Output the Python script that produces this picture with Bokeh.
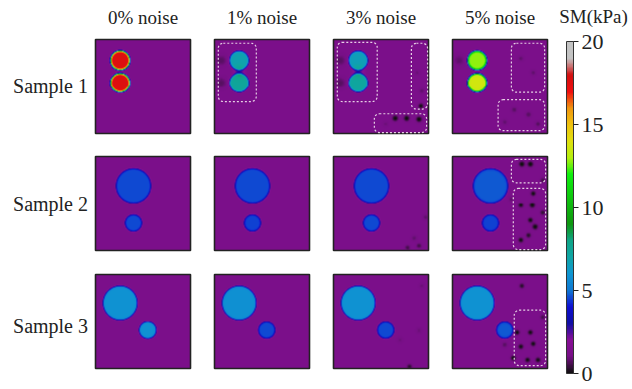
import numpy as np
from bokeh.plotting import figure
from bokeh.models import Range1d, LinearColorMapper, ColorBar, FixedTicker, BoxAnnotation
from bokeh.core.properties import value
from bokeh.embed import file_html
from bokeh.resources import INLINE

# ---------------------------------------------------------------- data
noise_labels = ["0% noise", "1% noise", "3% noise", "5% noise"]
sample_labels = ["Sample 1", "Sample 2", "Sample 3"]
cbar_ticks = [0, 5, 10, 15, 20]
cbar_title = "SM(kPa)"
sm_low, sm_high = 0.0, 20.0
background_kpa = 1.2

# inclusion geometry per sample: (u, v, radius), panel units, v from the top
inclusions = [
    [(0.26, 0.22, 0.10), (0.26, 0.46, 0.10)],
    [(0.40, 0.31, 0.185), (0.40, 0.71, 0.09)],
    [(0.26, 0.30, 0.18), (0.55, 0.595, 0.09)],
]
# reconstructed shear modulus of each inclusion (kPa), per noise level
inclusion_kpa = [
    [[17.6, 17.6], [6.8, 7.4], [6.6, 7.2], [12.8, 13.6]],
    [[4.6, 4.6], [4.6, 4.5], [4.6, 4.6], [4.7, 4.5]],
    [[5.9, 5.9], [5.8, 4.6], [5.9, 4.6], [5.9, 4.7]],
]
# reconstruction artefacts: (sample, noise, u, v, delta kPa, width)
artefacts = [
    (0, 1, 0.07, 0.22, -0.5, 0.04), (0, 1, 0.07, 0.46, -0.5, 0.04), (0, 1, 0.26, 0.34, 1.5, 0.04),
    (0, 2, 0.07, 0.22, -0.5, 0.04), (0, 2, 0.07, 0.46, -0.5, 0.04), (0, 2, 0.26, 0.34, 1.5, 0.04),
    (0, 2, 0.65, 0.84, -1.3, 0.02), (0, 2, 0.77, 0.84, -1.3, 0.02), (0, 2, 0.90, 0.85, -1.3, 0.02),
    (0, 2, 0.92, 0.71, -1.2, 0.018), (0, 2, 0.93, 0.55, -0.4, 0.02), (0, 2, 0.88, 0.35, -0.3, 0.02),
    (0, 2, 0.55, 0.90, -0.3, 0.02),
    (0, 3, 0.72, 0.20, -0.4, 0.02), (0, 3, 0.85, 0.35, -0.4, 0.02), (0, 3, 0.65, 0.75, -0.5, 0.02),
    (0, 3, 0.80, 0.80, -0.5, 0.02), (0, 3, 0.90, 0.90, -0.5, 0.02), (0, 3, 0.55, 0.88, -0.4, 0.02),
    (0, 3, 0.07, 0.22, -0.4, 0.04),
    (1, 2, 0.78, 0.97, -0.7, 0.018), (1, 2, 0.90, 0.95, -0.7, 0.018), (1, 2, 0.85, 0.87, -0.4, 0.02),
    (1, 2, 0.97, 0.65, -0.4, 0.02),
    (1, 3, 0.73, 0.08, -1.3, 0.02), (1, 3, 0.82, 0.08, -1.3, 0.02), (1, 3, 0.85, 0.39, -1.2, 0.018),
    (1, 3, 0.72, 0.52, -1.2, 0.018), (1, 3, 0.84, 0.52, -1.3, 0.02), (1, 3, 0.82, 0.68, -1.2, 0.018),
    (1, 3, 0.87, 0.75, -1.3, 0.02), (1, 3, 0.72, 0.89, -1.2, 0.018), (1, 3, 0.80, 0.84, -1.0, 0.018),
    (1, 3, 0.95, 0.60, -0.9, 0.018), (1, 3, 0.95, 0.25, -0.7, 0.018), (1, 3, 0.62, 0.45, -0.4, 0.02),
    (2, 2, 0.80, 0.98, -0.9, 0.018), (2, 2, 0.90, 0.60, -0.3, 0.02), (2, 2, 0.93, 0.12, -0.3, 0.02),
    (2, 2, 0.70, 0.70, -0.3, 0.02),
    (2, 3, 0.73, 0.12, -1.0, 0.018), (2, 3, 0.68, 0.62, -1.2, 0.018), (2, 3, 0.82, 0.62, -1.2, 0.018),
    (2, 3, 0.72, 0.77, -1.2, 0.018), (2, 3, 0.85, 0.74, -1.2, 0.018), (2, 3, 0.64, 0.89, -1.2, 0.018),
    (2, 3, 0.79, 0.91, -1.2, 0.018), (2, 3, 0.90, 0.91, -1.2, 0.018), (2, 3, 0.95, 0.45, -0.7, 0.018),
    (2, 3, 0.55, 0.75, -0.5, 0.02),
]
# highlighted regions: (sample, noise, u0, v0, u1, v1)
highlight_boxes = [
    (0, 1, 0.04, 0.04, 0.44, 0.66),
    (0, 2, 0.04, 0.03, 0.46, 0.66), (0, 2, 0.82, 0.04, 0.99, 0.74), (0, 2, 0.43, 0.79, 0.98, 0.99),
    (0, 3, 0.62, 0.04, 0.97, 0.56), (0, 3, 0.48, 0.64, 0.97, 0.97),
    (1, 3, 0.62, 0.03, 0.98, 0.28), (1, 3, 0.64, 0.34, 0.98, 0.99),
    (2, 3, 0.65, 0.38, 0.98, 0.97),
]

# nipy_spectral-like colour map
_cmap_nodes = [
    (0.00, 0.0000, 0.0000, 0.0000), (0.05, 0.4667, 0.0000, 0.5333), (0.10, 0.5333, 0.0000, 0.6000),
    (0.15, 0.0000, 0.0000, 0.6667), (0.20, 0.0000, 0.0000, 0.8667), (0.25, 0.0000, 0.4667, 0.8667),
    (0.30, 0.0000, 0.6000, 0.8667), (0.35, 0.0000, 0.6667, 0.6667), (0.40, 0.0000, 0.6667, 0.5333),
    (0.45, 0.0000, 0.6000, 0.0000), (0.50, 0.0000, 0.7333, 0.0000), (0.55, 0.0000, 0.8667, 0.0000),
    (0.60, 0.0000, 1.0000, 0.0000), (0.65, 0.7333, 1.0000, 0.0000), (0.70, 0.9333, 0.9333, 0.0000),
    (0.75, 1.0000, 0.8000, 0.0000), (0.80, 1.0000, 0.6000, 0.0000), (0.85, 1.0000, 0.0000, 0.0000),
    (0.90, 0.8667, 0.0000, 0.0000), (0.95, 0.8000, 0.8000, 0.8000), (1.00, 0.8000, 0.8000, 0.8000),
]
palette_softening = 0.12  # blend toward grey for a slightly muted print look


def build_palette(n=256):
    nodes = np.array(_cmap_nodes)
    t = np.linspace(0, 1, n)
    cols = []
    for ti in t:
        rgb = np.array([np.interp(ti, nodes[:, 0], nodes[:, k]) for k in (1, 2, 3)])
        rgb = (1 - palette_softening) * rgb + palette_softening * 0.5
        r, g, b = (int(round(c * 255)) for c in rgb)
        cols.append("#%02x%02x%02x" % (r, g, b))
    return cols


# ---------------------------------------------------------------- layout
W, H = 632, 389
panel_left = [95, 214, 333, 452]
panel_top = [39, 156, 274]
panel_w, panel_h = 95, 94
grid_n = 95
edge_width = 0.005
serif = "Liberation Serif"


def sy(y_px):
    """screen y (from the top) -> data y"""
    return H - y_px


def field(si, ni):
    u = (np.arange(grid_n) + 0.5) / grid_n
    uu, vv = np.meshgrid(u, u)
    f = np.full((grid_n, grid_n), background_kpa)
    for (cu, cv, r), e in zip(inclusions[si], inclusion_kpa[si][ni]):
        d = np.hypot(uu - cu, vv - cv)
        w = 1.0 / (1.0 + np.exp((d - r) / edge_width))
        f = f + (e - background_kpa) * w
    for (s, n, au, av, amp, width) in artefacts:
        if s == si and n == ni:
            f = f + amp * np.exp(-((uu - au) ** 2 + (vv - av) ** 2) / (2 * width ** 2))
    return np.clip(f, 0.0, None)[::-1]


p = figure(width=W, height=H, x_range=Range1d(0, W), y_range=Range1d(0, H),
           output_backend="svg", toolbar_location=None, min_border=0)
p.axis.visible = False
p.grid.visible = False
p.outline_line_color = None
p.background_fill_color = "white"
p.border_fill_color = "white"

mapper = LinearColorMapper(palette=build_palette(), low=sm_low, high=sm_high)

for si in range(len(sample_labels)):
    for ni in range(len(noise_labels)):
        x0 = panel_left[ni]
        y1 = panel_top[si] + panel_h
        p.image(image=[field(si, ni)], x=x0, y=sy(y1), dw=panel_w, dh=panel_h,
                color_mapper=mapper)
        p.quad(left=[x0], right=[x0 + panel_w], top=[sy(panel_top[si])], bottom=[sy(y1)],
               fill_alpha=0, line_color="#222222", line_width=1.6)

for (s, n, u0, v0, u1, v1) in highlight_boxes:
    x0, t0 = panel_left[n], panel_top[s]
    p.add_layout(BoxAnnotation(left=x0 + u0 * panel_w, right=x0 + u1 * panel_w,
                               top=sy(t0 + v0 * panel_h), bottom=sy(t0 + v1 * panel_h),
                               fill_alpha=0, line_color="#f2e6ee", line_alpha=0.9,
                               line_width=1.2, line_dash="2 2", border_radius=5))

# column and row titles
p.text(x=[l + panel_w / 2 for l in panel_left], y=[sy(17)] * 4, text=noise_labels,
       text_font=value(serif), text_font_size="19px", text_color="#222222",
       text_align="center", text_baseline="middle")
p.text(x=[50] * 3, y=[sy(85), sy(203), sy(325)], text=sample_labels,
       text_font=value(serif), text_font_size="20px", text_color="#222222",
       text_align="center", text_baseline="middle")
p.text(x=[593], y=[sy(16)], text=[cbar_title],
       text_font=value(serif), text_font_size="19px", text_color="#222222",
       text_align="center", text_baseline="middle")

cbar_top, cbar_bottom = 41, 373
cb = ColorBar(color_mapper=mapper, ticker=FixedTicker(ticks=cbar_ticks),
              orientation="vertical", width=7, height=cbar_bottom - cbar_top,
              location=(566, H - cbar_bottom), padding=0,
              major_label_text_font=serif, major_label_text_font_size="22px",
              major_label_text_color="#222222",
              major_tick_in=0, major_tick_out=5, major_tick_line_color="#222222",
              bar_line_color="#333333", label_standoff=3,
              background_fill_alpha=0, border_line_color=None)
p.add_layout(cb)

open("out.html", "w").write(file_html(p, INLINE))
